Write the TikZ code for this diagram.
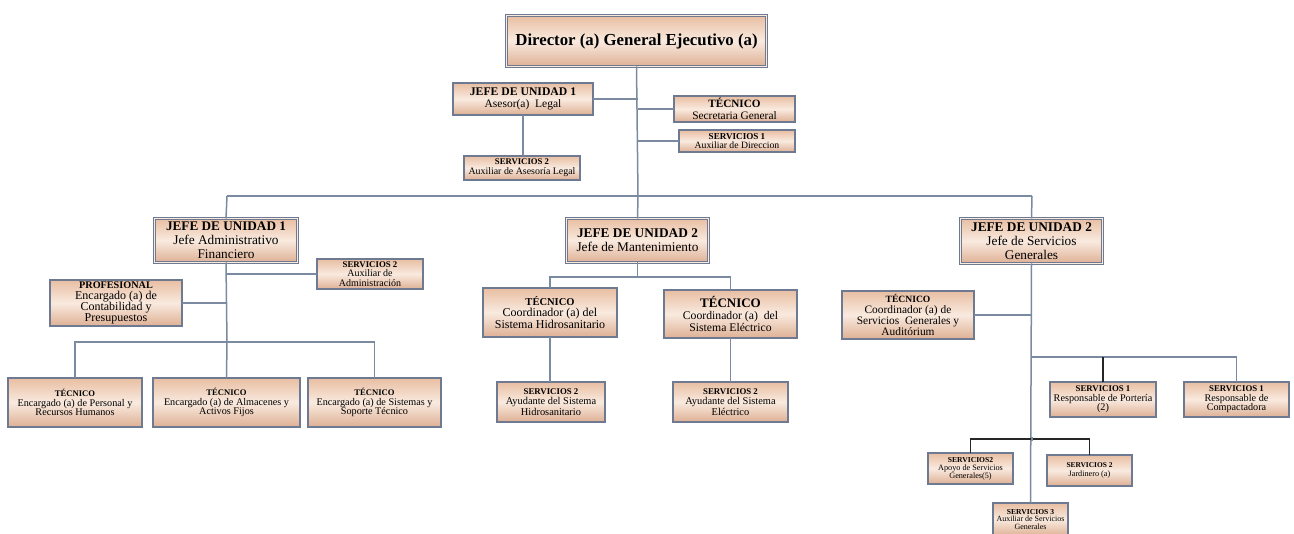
\documentclass[tikz,border=0pt]{standalone}
\usepackage{fontspec}
\setmainfont{Liberation Serif}
\definecolor{linecol}{RGB}{122,138,160}
\definecolor{bordcol}{RGB}{110,122,145}
\definecolor{ptop}{RGB}{232,190,162}
\definecolor{pmid}{RGB}{249,234,223}
\definecolor{pbot}{RGB}{222,176,148}
\newcommand{\hdr}[2]{{\fontsize{#1}{#1}\selectfont\bfseries #2}}
\newcommand{\fsz}[2]{\fontsize{#1}{#2}\selectfont}
\tikzset{
  box/.style={draw=bordcol, line width=1.3pt, top color=ptop, bottom color=pbot, middle color=pmid,
     align=center, inner sep=1pt, outer sep=0pt, font=#1},
  box/.default={\fsz{8}{9}},
  dbox/.style={box=#1, double=pmid, double distance=1.6pt, line width=0.9pt},
  dbox/.default={\fsz{13.3}{13.8}},
  conn/.style={draw=linecol, line width=1.5pt},
  bconn/.style={draw=black!85, line width=1.3pt},
}
\begin{document}
\begin{tikzpicture}[x=1pt,y=-1pt]
\useasboundingbox (0,0) rectangle (1294,534);
% ---- top level
\node[dbox={\fsz{16.8}{18}}, minimum width=260, minimum height=51] (dir) at (636.5,41) {\bfseries Director (a) General Ejecutivo (a)};
\node[box={\fsz{11.5}{12.5}}, minimum width=140, minimum height=32] (asesor) at (523,99) {\hdr{11.7}{JEFE DE UNIDAD 1}\\Asesor(a)\ \ Legal};
\node[box={\fsz{9.9}{10.2}}, minimum width=116, minimum height=24] (auxasesor) at (522,168) {\hdr{8.7}{SERVICIOS 2}\\Auxiliar de Asesoría Legal};
\node[box={\fsz{11.4}{11.8}}, minimum width=121, minimum height=26] (secret) at (734.5,109) {\hdr{11.2}{TÉCNICO}\\Secretaria General};
\node[box={\fsz{9.7}{9.8}}, minimum width=116, minimum height=22] (auxdir) at (737,141) {\hdr{9.1}{SERVICIOS 1}\\Auxiliar de Direccion};
% ---- jefes
\node[dbox, minimum width=143, minimum height=44] (jadm) at (226,240.5) {\hdr{13.2}{JEFE DE UNIDAD 1}\\Jefe Administrativo\\Financiero};
\node[dbox, minimum width=142, minimum height=44] (jman) at (637.5,240.5) {\hdr{13.3}{JEFE DE UNIDAD 2}\\Jefe de Mantenimiento};
\node[dbox, minimum width=142, minimum height=45] (jserv) at (1031.5,241) {\hdr{13.3}{JEFE DE UNIDAD 2}\\Jefe de Servicios\\Generales};
% ---- administrativo
\node[box={\fsz{10}{9.4}}, minimum width=106, minimum height=30] (auxadm) at (370,274) {\hdr{8.8}{SERVICIOS 2}\\Auxiliar de\\Administración};
\node[box={\fsz{12}{11.2}}, minimum width=132, minimum height=46] (prof) at (116,303) {\hdr{10.2}{PROFESIONAL}\\Encargado (a) de\\Contabilidad y\\Presupuestos};
\node[box={\fsz{10.2}{9.8}}, minimum width=134, minimum height=49] (t1) at (75,402.5) {\hdr{8.6}{TÉCNICO}\\Encargado (a) de Personal y\\Recursos Humanos};
\node[box={\fsz{10.2}{9.8}}, minimum width=147, minimum height=49] (t2) at (226.5,402.5) {\hdr{8.6}{TÉCNICO}\\Encargado (a) de Almacenes y\\Activos Fijos};
\node[box={\fsz{10.2}{9.8}}, minimum width=133, minimum height=49] (t3) at (374.5,402.5) {\hdr{8.6}{TÉCNICO}\\Encargado (a) de Sistemas y\\Soporte Técnico};
% ---- mantenimiento
\node[box={\fsz{12}{11.4}}, minimum width=134, minimum height=49] (thid) at (550,312.5) {\hdr{10.5}{TÉCNICO}\\Coordinador (a) del\\Sistema Hidrosanitario};
\node[box={\fsz{10.4}{10.2}}, minimum width=108, minimum height=40] (aythid) at (551,402) {\hdr{8.8}{SERVICIOS 2}\\Ayudante del Sistema\\Hidrosanitario};
\node[box={\fsz{11.7}{11.8}}, minimum width=133, minimum height=48] (telec) at (730.5,314) {\hdr{13}{TÉCNICO}\\Coordinador (a)\ \ del\\Sistema Eléctrico};
\node[box={\fsz{10.4}{10.2}}, minimum width=115, minimum height=40] (ayelec) at (730.5,402) {\hdr{8.8}{SERVICIOS 2}\\Ayudante del Sistema\\Eléctrico};
% ---- servicios generales
\node[box={\fsz{11.4}{10.8}}, minimum width=132, minimum height=48] (tcoord) at (908,315) {\hdr{9.6}{TÉCNICO}\\Coordinador (a) de\\Servicios\ \ Generales y\\Auditórium};
\node[box={\fsz{10.2}{9.5}}, minimum width=106, minimum height=35] (port) at (1103,399.5) {\hdr{8.8}{SERVICIOS 1}\\Responsable de Portería\\(2)};
\node[box={\fsz{10.2}{9.5}}, minimum width=105, minimum height=35] (comp) at (1236.5,399.5) {\hdr{8.8}{SERVICIOS 1}\\Responsable de\\Compactadora};
\node[box={\fsz{8.2}{7.9}}, minimum width=85, minimum height=31] (apoyo) at (970.5,468.5) {\hdr{7.6}{SERVICIOS2}\\Apoyo de Servicios\\Generales(5)};
\node[box={\fsz{8.2}{8.4}}, minimum width=85, minimum height=31] (jard) at (1089.5,470.5) {\hdr{7.4}{SERVICIOS 2}\\Jardinero (a)};
\node[box={\fsz{8}{7.9}}, minimum width=75, minimum height=33] (aux3) at (1030.5,519.5) {\hdr{7.6}{SERVICIOS 3}\\Auxiliar de Servicios\\Generales};
% ---- connectors
\coordinate (bus) at (638,196);
\coordinate (busL) at (227,196);
\coordinate (busR) at (1032,196);
\draw[conn] (dir.south) -- (bus);
\draw[conn] (busL) -- (busR);
\draw[conn] (busL) -- (jadm.north);
\draw[conn] (bus) -- (jman.north);
\draw[conn] (busR) -- (jserv.north);
\draw[conn] (asesor.east) -- (asesor.east -| bus);
\draw[conn] (secret.west) -- (secret.west -| bus);
\draw[conn] (auxdir.west) -- (auxdir.west -| bus);
\draw[conn] (asesor.south) -- (asesor.south |- auxasesor.north);
% administrativo
\coordinate (ab) at (227,342);
\draw[conn] (jadm.south) -- (ab);
\draw[conn] (auxadm.west) -- (auxadm.west -| ab);
\draw[conn] (prof.east) -- (prof.east -| ab);
\draw[conn] (t1.north) -- (t1.north |- ab) -- (t3.north |- ab) -- (t3.north);
\draw[conn] (ab) -- (t2.north);
% mantenimiento
\coordinate (mb) at (637.5,277);
\draw[conn] (jman.south) -- (mb);
\draw[conn] (thid.north) -- (thid.north |- mb) -- (telec.north |- mb) -- (telec.north);
\draw[conn] (thid.south) -- (thid.south |- aythid.north);
\draw[conn] (telec.south) -- (telec.south |- ayelec.north);
% servicios generales
\coordinate (sb) at (1032,357);
\coordinate (sb2) at (1032,439);
\draw[conn] (jserv.south) -- (aux3.north);
\draw[conn] (tcoord.east) -- (tcoord.east -| sb);
\draw[conn] (sb) -- (comp.north |- sb) -- (comp.north);
\draw[bconn] (port.north |- sb) -- (port.north);
\draw[bconn] (apoyo.north) -- (apoyo.north |- sb2) -- (jard.north |- sb2) -- (jard.north);
\draw[conn] (sb2) ++(0,-2) -- ++(0,4);
\end{tikzpicture}
\end{document}
